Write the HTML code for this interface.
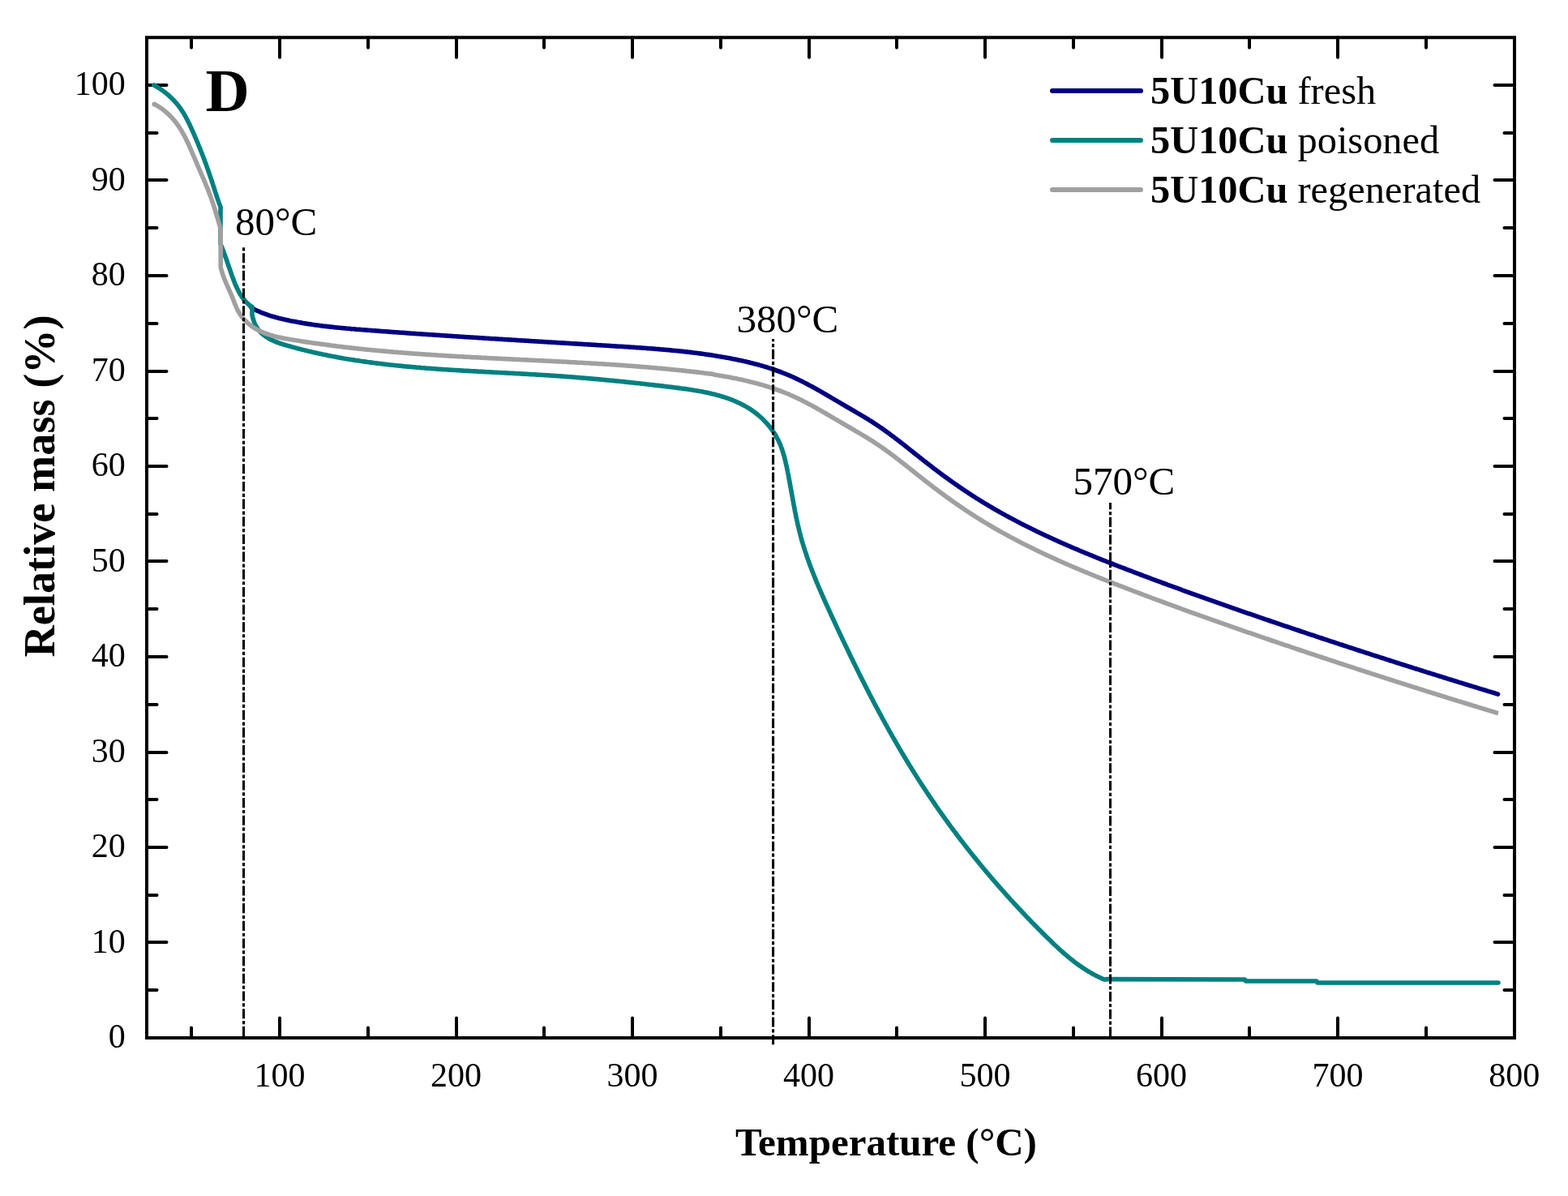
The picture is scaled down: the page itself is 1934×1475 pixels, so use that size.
<!DOCTYPE html><html><head><meta charset="utf-8"><title>TGA</title><style>html,body{margin:0;padding:0;background:#fff;overflow:hidden;width:1934px;height:1475px;}svg{display:block}</style></head><body>
<svg width="1934" height="1475" viewBox="0 0 1934 1475">
<rect width="1934" height="1475" fill="#fff"/>
<g stroke="#000" stroke-width="4" stroke-linecap="round">
<line x1="236.00" y1="1280.0" x2="236.00" y2="1267.5"/>
<line x1="236.00" y1="46.25" x2="236.00" y2="58.75"/>
<line x1="345.00" y1="1280.0" x2="345.00" y2="1255.5"/>
<line x1="345.00" y1="46.25" x2="345.00" y2="70.75"/>
<line x1="454.00" y1="1280.0" x2="454.00" y2="1267.5"/>
<line x1="454.00" y1="46.25" x2="454.00" y2="58.75"/>
<line x1="563.00" y1="1280.0" x2="563.00" y2="1255.5"/>
<line x1="563.00" y1="46.25" x2="563.00" y2="70.75"/>
<line x1="671.00" y1="1280.0" x2="671.00" y2="1267.5"/>
<line x1="671.00" y1="46.25" x2="671.00" y2="58.75"/>
<line x1="780.00" y1="1280.0" x2="780.00" y2="1255.5"/>
<line x1="780.00" y1="46.25" x2="780.00" y2="70.75"/>
<line x1="889.00" y1="1280.0" x2="889.00" y2="1267.5"/>
<line x1="889.00" y1="46.25" x2="889.00" y2="58.75"/>
<line x1="998.00" y1="1280.0" x2="998.00" y2="1255.5"/>
<line x1="998.00" y1="46.25" x2="998.00" y2="70.75"/>
<line x1="1106.00" y1="1280.0" x2="1106.00" y2="1267.5"/>
<line x1="1106.00" y1="46.25" x2="1106.00" y2="58.75"/>
<line x1="1215.00" y1="1280.0" x2="1215.00" y2="1255.5"/>
<line x1="1215.00" y1="46.25" x2="1215.00" y2="70.75"/>
<line x1="1324.00" y1="1280.0" x2="1324.00" y2="1267.5"/>
<line x1="1324.00" y1="46.25" x2="1324.00" y2="58.75"/>
<line x1="1433.00" y1="1280.0" x2="1433.00" y2="1255.5"/>
<line x1="1433.00" y1="46.25" x2="1433.00" y2="70.75"/>
<line x1="1541.00" y1="1280.0" x2="1541.00" y2="1267.5"/>
<line x1="1541.00" y1="46.25" x2="1541.00" y2="58.75"/>
<line x1="1650.00" y1="1280.0" x2="1650.00" y2="1255.5"/>
<line x1="1650.00" y1="46.25" x2="1650.00" y2="70.75"/>
<line x1="1759.00" y1="1280.0" x2="1759.00" y2="1267.5"/>
<line x1="1759.00" y1="46.25" x2="1759.00" y2="58.75"/>
<line x1="181.0" y1="1221.00" x2="193.5" y2="1221.00"/>
<line x1="1868.0" y1="1221.00" x2="1855.5" y2="1221.00"/>
<line x1="181.0" y1="1162.00" x2="205.5" y2="1162.00"/>
<line x1="1868.0" y1="1162.00" x2="1843.5" y2="1162.00"/>
<line x1="181.0" y1="1104.00" x2="193.5" y2="1104.00"/>
<line x1="1868.0" y1="1104.00" x2="1855.5" y2="1104.00"/>
<line x1="181.0" y1="1045.00" x2="205.5" y2="1045.00"/>
<line x1="1868.0" y1="1045.00" x2="1843.5" y2="1045.00"/>
<line x1="181.0" y1="986.00" x2="193.5" y2="986.00"/>
<line x1="1868.0" y1="986.00" x2="1855.5" y2="986.00"/>
<line x1="181.0" y1="928.00" x2="205.5" y2="928.00"/>
<line x1="1868.0" y1="928.00" x2="1843.5" y2="928.00"/>
<line x1="181.0" y1="869.00" x2="193.5" y2="869.00"/>
<line x1="1868.0" y1="869.00" x2="1855.5" y2="869.00"/>
<line x1="181.0" y1="810.00" x2="205.5" y2="810.00"/>
<line x1="1868.0" y1="810.00" x2="1843.5" y2="810.00"/>
<line x1="181.0" y1="751.00" x2="193.5" y2="751.00"/>
<line x1="1868.0" y1="751.00" x2="1855.5" y2="751.00"/>
<line x1="181.0" y1="692.00" x2="205.5" y2="692.00"/>
<line x1="1868.0" y1="692.00" x2="1843.5" y2="692.00"/>
<line x1="181.0" y1="634.00" x2="193.5" y2="634.00"/>
<line x1="1868.0" y1="634.00" x2="1855.5" y2="634.00"/>
<line x1="181.0" y1="575.00" x2="205.5" y2="575.00"/>
<line x1="1868.0" y1="575.00" x2="1843.5" y2="575.00"/>
<line x1="181.0" y1="516.00" x2="193.5" y2="516.00"/>
<line x1="1868.0" y1="516.00" x2="1855.5" y2="516.00"/>
<line x1="181.0" y1="458.00" x2="205.5" y2="458.00"/>
<line x1="1868.0" y1="458.00" x2="1843.5" y2="458.00"/>
<line x1="181.0" y1="399.00" x2="193.5" y2="399.00"/>
<line x1="1868.0" y1="399.00" x2="1855.5" y2="399.00"/>
<line x1="181.0" y1="340.00" x2="205.5" y2="340.00"/>
<line x1="1868.0" y1="340.00" x2="1843.5" y2="340.00"/>
<line x1="181.0" y1="281.00" x2="193.5" y2="281.00"/>
<line x1="1868.0" y1="281.00" x2="1855.5" y2="281.00"/>
<line x1="181.0" y1="222.00" x2="205.5" y2="222.00"/>
<line x1="1868.0" y1="222.00" x2="1843.5" y2="222.00"/>
<line x1="181.0" y1="164.00" x2="193.5" y2="164.00"/>
<line x1="1868.0" y1="164.00" x2="1855.5" y2="164.00"/>
<line x1="181.0" y1="105.00" x2="205.5" y2="105.00"/>
<line x1="1868.0" y1="105.00" x2="1843.5" y2="105.00"/>
</g>
<rect x="181.0" y="46.25" width="1687.0" height="1233.75" fill="none" stroke="#000" stroke-width="4"/>
<g fill="none" stroke-width="5.6" stroke-linejoin="round" stroke-linecap="round">
<path stroke="#000080" d="M309.5,378.6L310.6,379.8L311.9,380.5L313.2,381.2L314.5,381.9L315.9,382.6L317.2,383.2L318.6,383.8L320.0,384.4L321.3,385.0L322.7,385.6L324.1,386.2L325.5,386.7L326.9,387.2L328.3,387.7L329.7,388.2L331.1,388.7L332.5,389.1L334.0,389.6L335.4,390.0L336.8,390.4L338.3,390.8L339.7,391.2L341.1,391.6L342.6,392.0L344.0,392.4L345.5,392.7L347.0,393.1L348.4,393.4L349.9,393.8L351.3,394.1L352.8,394.4L354.3,394.7L355.7,395.0L357.2,395.4L358.6,395.7L360.1,396.0L361.6,396.2L363.0,396.5L364.5,396.8L366.0,397.1L367.5,397.4L368.9,397.6L370.4,397.9L371.9,398.1L373.4,398.4L374.8,398.7L376.3,398.9L377.8,399.1L379.3,399.4L380.8,399.6L382.2,399.8L383.7,400.0L385.2,400.3L386.7,400.5L388.2,400.7L389.7,400.9L391.1,401.1L392.6,401.3L394.1,401.5L395.6,401.7L397.1,401.9L398.6,402.1L400.1,402.2L401.6,402.4L403.1,402.6L404.6,402.8L406.0,402.9L407.5,403.1L409.0,403.3L410.5,403.4L412.0,403.6L413.5,403.7L415.0,403.9L416.5,404.0L418.0,404.2L419.5,404.3L421.0,404.5L422.5,404.6L424.0,404.8L425.5,404.9L427.0,405.0L428.5,405.2L430.0,405.3L431.5,405.4L433.0,405.6L434.5,405.7L436.0,405.8L437.5,405.9L439.0,406.1L440.5,406.2L442.0,406.3L443.5,406.4L445.0,406.5L446.5,406.7L448.0,406.8L449.5,406.9L451.0,407.0L452.5,407.1L454.0,407.2L455.5,407.3L457.0,407.5L458.5,407.6L460.0,407.7L461.5,407.8L463.0,407.9L464.5,408.0L466.0,408.1L467.5,408.2L469.0,408.4L470.5,408.5L472.0,408.6L473.5,408.7L475.0,408.8L476.5,408.9L478.0,409.0L479.5,409.1L481.0,409.2L482.5,409.4L484.0,409.5L485.5,409.6L487.0,409.7L488.5,409.8L490.0,409.9L491.5,410.0L493.0,410.1L494.5,410.2L496.0,410.3L497.5,410.4L499.0,410.5L500.5,410.6L502.0,410.7L503.5,410.9L505.0,411.0L506.5,411.1L508.0,411.2L509.5,411.3L511.0,411.4L512.5,411.5L514.0,411.6L515.5,411.7L517.0,411.8L518.5,411.9L520.0,412.0L521.5,412.1L523.0,412.2L524.5,412.3L526.0,412.4L527.5,412.5L529.0,412.6L530.5,412.7L532.0,412.8L533.5,412.9L535.0,413.0L536.5,413.1L538.0,413.2L539.5,413.3L541.0,413.4L542.5,413.5L544.0,413.6L545.5,413.7L547.0,413.8L548.5,413.9L550.0,414.0L551.4,414.1L552.9,414.2L554.4,414.3L555.9,414.4L557.4,414.5L558.9,414.6L560.4,414.7L561.9,414.8L563.4,414.9L564.9,415.0L566.4,415.1L567.9,415.2L569.4,415.3L570.9,415.4L572.4,415.5L573.9,415.6L575.4,415.7L576.9,415.8L578.4,415.9L579.9,416.0L581.4,416.0L582.9,416.1L584.4,416.2L585.9,416.3L587.4,416.4L588.9,416.5L590.4,416.6L591.9,416.7L593.4,416.8L594.9,416.9L596.4,417.0L597.9,417.1L599.4,417.2L600.9,417.3L602.3,417.4L603.8,417.5L605.3,417.6L606.8,417.7L608.3,417.7L609.8,417.8L611.3,417.9L612.8,418.0L614.3,418.1L615.8,418.2L617.3,418.3L618.8,418.4L620.3,418.5L621.8,418.6L623.3,418.7L624.8,418.8L626.3,418.9L627.8,418.9L629.3,419.0L630.8,419.1L632.3,419.2L633.8,419.3L635.3,419.4L636.8,419.5L638.3,419.6L639.8,419.7L641.3,419.8L642.8,419.9L644.3,420.0L645.8,420.0L647.3,420.1L648.8,420.2L650.3,420.3L651.7,420.4L653.2,420.5L654.7,420.6L656.2,420.7L657.7,420.8L659.2,420.9L660.7,421.0L662.2,421.0L663.7,421.1L665.2,421.2L666.7,421.3L668.2,421.4L669.7,421.5L671.2,421.6L672.7,421.7L674.2,421.8L675.7,421.9L677.2,422.0L678.7,422.0L680.2,422.1L681.7,422.2L683.2,422.3L684.7,422.4L686.2,422.5L687.7,422.6L689.2,422.7L690.7,422.8L692.2,422.9L693.7,422.9L695.2,423.0L696.7,423.1L698.2,423.2L699.7,423.3L701.2,423.4L702.7,423.5L704.2,423.6L705.7,423.7L707.2,423.8L708.7,423.9L710.2,423.9L711.7,424.0L713.2,424.1L714.7,424.2L716.1,424.3L717.6,424.4L719.1,424.5L720.6,424.6L722.1,424.7L723.6,424.8L725.1,424.9L726.6,424.9L728.1,425.0L729.6,425.1L731.1,425.2L732.6,425.3L734.1,425.4L735.6,425.5L737.1,425.6L738.6,425.7L740.1,425.8L741.6,425.9L743.1,426.0L744.6,426.0L746.1,426.1L747.6,426.2L749.1,426.3L750.6,426.4L752.1,426.5L753.6,426.6L755.1,426.7L756.6,426.8L758.1,426.9L759.6,427.0L761.1,427.1L762.6,427.2L764.1,427.2L765.6,427.3L767.1,427.4L768.6,427.5L770.1,427.6L771.6,427.7L773.1,427.8L774.6,427.9L776.1,428.0L777.6,428.1L779.1,428.2L780.6,428.3L782.1,428.4L783.6,428.5L785.1,428.6L786.6,428.7L788.1,428.8L789.6,428.9L791.1,429.0L792.6,429.1L794.1,429.2L795.6,429.3L797.1,429.5L798.6,429.6L800.1,429.7L801.6,429.8L803.1,429.9L804.6,430.0L806.1,430.1L807.6,430.2L809.1,430.4L810.6,430.5L812.1,430.6L813.6,430.7L815.1,430.9L816.6,431.0L818.1,431.1L819.6,431.2L821.1,431.4L822.6,431.5L824.1,431.6L825.6,431.8L827.1,431.9L828.6,432.1L830.1,432.2L831.6,432.4L833.1,432.5L834.6,432.6L836.1,432.8L837.6,433.0L839.1,433.1L840.5,433.3L842.0,433.4L843.5,433.6L845.0,433.8L846.5,433.9L848.0,434.1L849.5,434.3L851.0,434.4L852.5,434.6L854.0,434.8L855.5,435.0L857.0,435.2L858.4,435.3L859.9,435.5L861.4,435.7L862.9,435.9L864.4,436.1L865.9,436.3L867.4,436.5L868.9,436.7L870.3,436.9L871.8,437.2L873.3,437.4L874.8,437.6L876.3,437.8L877.8,438.0L879.3,438.3L880.7,438.5L882.2,438.7L883.7,439.0L885.2,439.2L886.7,439.5L888.1,439.7L889.6,440.0L891.1,440.2L892.6,440.5L894.1,440.7L895.5,441.0L897.0,441.3L898.5,441.5L900.0,441.8L901.4,442.1L902.9,442.4L904.4,442.7L905.9,443.0L907.3,443.3L908.8,443.6L910.3,443.9L911.7,444.2L913.2,444.5L914.7,444.8L916.1,445.1L917.6,445.5L919.1,445.8L920.5,446.1L922.0,446.5L923.5,446.8L924.9,447.2L926.4,447.6L927.8,447.9L929.3,448.3L930.7,448.7L932.2,449.0L933.6,449.4L935.1,449.8L936.5,450.2L938.0,450.6L939.4,451.0L940.8,451.4L942.3,451.9L943.7,452.3L945.2,452.7L946.6,453.2L948.0,453.6L949.4,454.1L950.9,454.5L952.3,455.0L953.7,455.5L955.1,456.0L956.5,456.5L957.9,457.0L959.3,457.5L960.8,458.0L962.2,458.5L963.6,459.0L965.0,459.6L966.3,460.1L967.7,460.6L969.1,461.2L970.5,461.8L971.9,462.3L973.3,462.9L974.6,463.5L976.0,464.1L977.4,464.7L978.7,465.3L980.1,466.0L981.5,466.6L982.8,467.2L984.2,467.9L985.5,468.5L986.9,469.2L988.2,469.8L989.5,470.5L990.9,471.2L992.2,471.9L993.6,472.6L994.9,473.3L996.2,474.0L997.5,474.7L998.9,475.4L1000.2,476.1L1001.5,476.8L1002.8,477.5L1004.1,478.3L1005.5,479.0L1006.8,479.7L1008.1,480.5L1009.4,481.2L1010.7,481.9L1012.0,482.7L1013.3,483.4L1014.6,484.2L1015.9,485.0L1017.3,485.7L1018.6,486.5L1019.9,487.2L1021.2,488.0L1022.5,488.8L1023.8,489.5L1025.1,490.3L1026.4,491.1L1027.7,491.8L1029.0,492.6L1030.3,493.4L1031.6,494.1L1032.9,494.9L1034.2,495.7L1035.5,496.4L1036.8,497.2L1038.1,498.0L1039.4,498.7L1040.7,499.5L1042.0,500.2L1043.3,501.0L1044.6,501.8L1045.9,502.5L1047.2,503.3L1048.5,504.0L1049.8,504.8L1051.1,505.5L1052.4,506.3L1053.7,507.0L1055.0,507.8L1056.3,508.6L1057.6,509.3L1058.9,510.1L1060.2,510.8L1061.5,511.6L1062.8,512.4L1064.1,513.1L1065.3,513.9L1066.6,514.7L1067.9,515.5L1069.2,516.2L1070.5,517.0L1071.7,517.8L1073.0,518.6L1074.3,519.4L1075.5,520.2L1076.8,521.0L1078.1,521.8L1079.3,522.6L1080.6,523.5L1081.8,524.3L1083.1,525.1L1084.3,526.0L1085.5,526.8L1086.8,527.6L1088.0,528.5L1089.2,529.4L1090.4,530.2L1091.6,531.1L1092.9,532.0L1094.1,532.8L1095.3,533.7L1096.5,534.6L1097.7,535.5L1098.9,536.4L1100.1,537.3L1101.3,538.2L1102.5,539.1L1103.7,540.0L1104.9,540.9L1106.1,541.8L1107.2,542.7L1108.4,543.6L1109.6,544.5L1110.8,545.4L1112.0,546.4L1113.2,547.3L1114.3,548.2L1115.5,549.1L1116.7,550.1L1117.9,551.0L1119.0,551.9L1120.2,552.9L1121.4,553.8L1122.6,554.7L1123.7,555.7L1124.9,556.6L1126.1,557.5L1127.3,558.5L1128.4,559.4L1129.6,560.3L1130.8,561.3L1132.0,562.2L1133.1,563.1L1134.3,564.1L1135.5,565.0L1136.7,565.9L1137.9,566.9L1139.0,567.8L1140.2,568.7L1141.4,569.6L1142.6,570.6L1143.8,571.5L1145.0,572.4L1146.2,573.3L1147.3,574.2L1148.5,575.2L1149.7,576.1L1150.9,577.0L1152.1,577.9L1153.3,578.8L1154.5,579.7L1155.7,580.6L1156.9,581.5L1158.1,582.4L1159.3,583.3L1160.5,584.2L1161.7,585.1L1163.0,586.0L1164.2,586.9L1165.4,587.8L1166.6,588.7L1167.8,589.6L1169.0,590.4L1170.3,591.3L1171.5,592.2L1172.7,593.1L1173.9,593.9L1175.1,594.8L1176.4,595.7L1177.6,596.5L1178.8,597.4L1180.1,598.3L1181.3,599.1L1182.5,600.0L1183.8,600.8L1185.0,601.7L1186.3,602.5L1187.5,603.4L1188.8,604.2L1190.0,605.0L1191.2,605.9L1192.5,606.7L1193.7,607.5L1195.0,608.4L1196.3,609.2L1197.5,610.0L1198.8,610.8L1200.0,611.6L1201.3,612.4L1202.6,613.3L1203.8,614.1L1205.1,614.9L1206.4,615.7L1207.6,616.5L1208.9,617.2L1210.2,618.0L1211.5,618.8L1212.7,619.6L1214.0,620.4L1215.3,621.2L1216.6,621.9L1217.9,622.7L1219.2,623.5L1220.5,624.2L1221.7,625.0L1223.0,625.7L1224.3,626.5L1225.6,627.3L1226.9,628.0L1228.2,628.8L1229.5,629.5L1230.8,630.2L1232.1,631.0L1233.4,631.7L1234.7,632.4L1236.0,633.2L1237.4,633.9L1238.7,634.6L1240.0,635.4L1241.3,636.1L1242.6,636.8L1243.9,637.5L1245.2,638.2L1246.6,638.9L1247.9,639.6L1249.2,640.3L1250.5,641.0L1251.9,641.7L1253.2,642.4L1254.5,643.1L1255.8,643.8L1257.2,644.5L1258.5,645.2L1259.8,645.9L1261.2,646.6L1262.5,647.2L1263.8,647.9L1265.2,648.6L1266.5,649.3L1267.9,649.9L1269.2,650.6L1270.6,651.3L1271.9,651.9L1273.2,652.6L1274.6,653.3L1275.9,653.9L1277.3,654.6L1278.6,655.2L1280.0,655.9L1281.3,656.5L1282.7,657.2L1284.0,657.8L1285.4,658.5L1286.8,659.1L1288.1,659.7L1289.5,660.4L1290.8,661.0L1292.2,661.6L1293.6,662.3L1294.9,662.9L1296.3,663.5L1297.7,664.1L1299.0,664.8L1300.4,665.4L1301.8,666.0L1303.1,666.6L1304.5,667.2L1305.9,667.9L1307.2,668.5L1308.6,669.1L1310.0,669.7L1311.4,670.3L1312.7,670.9L1314.1,671.5L1315.5,672.1L1316.9,672.7L1318.2,673.3L1319.6,673.9L1321.0,674.5L1322.4,675.1L1323.8,675.7L1325.2,676.3L1326.5,676.8L1327.9,677.4L1329.3,678.0L1330.7,678.6L1332.1,679.2L1333.5,679.8L1334.9,680.4L1336.2,680.9L1337.6,681.5L1339.0,682.1L1340.4,682.7L1341.8,683.2L1343.2,683.8L1344.6,684.4L1346.0,684.9L1347.4,685.5L1348.8,686.1L1350.2,686.6L1351.6,687.2L1352.9,687.8L1354.3,688.3L1355.7,688.9L1357.1,689.5L1358.5,690.0L1359.9,690.6L1361.3,691.1L1362.7,691.7L1364.1,692.2L1365.5,692.8L1366.9,693.3L1368.3,693.9L1369.7,694.4L1371.1,695.0L1372.5,695.5L1373.9,696.1L1375.3,696.6L1376.7,697.2L1378.1,697.7L1379.5,698.3L1380.9,698.8L1382.3,699.4L1383.7,699.9L1385.2,700.4L1386.6,701.0L1388.0,701.5L1389.4,702.1L1390.8,702.6L1392.2,703.1L1393.6,703.7L1395.0,704.2L1396.4,704.7L1397.8,705.3L1399.2,705.8L1400.6,706.3L1402.0,706.9L1403.4,707.4L1404.8,707.9L1406.2,708.5L1407.6,709.0L1409.0,709.5L1410.5,710.1L1411.9,710.6L1413.3,711.1L1414.7,711.6L1416.1,712.2L1417.5,712.7L1418.9,713.2L1420.3,713.8L1421.7,714.3L1423.1,714.8L1424.5,715.3L1425.9,715.9L1427.3,716.4L1428.7,716.9L1430.2,717.4L1431.6,717.9L1433.0,718.5L1434.4,719.0L1435.8,719.5L1437.2,720.0L1438.6,720.5L1440.0,721.1L1441.4,721.6L1442.8,722.1L1444.2,722.6L1445.7,723.1L1447.1,723.6L1448.5,724.2L1449.9,724.7L1451.3,725.2L1452.7,725.7L1454.1,726.2L1455.5,726.7L1456.9,727.2L1458.3,727.8L1459.8,728.3L1461.2,728.8L1462.6,729.3L1464.0,729.8L1465.4,730.3L1466.8,730.8L1468.2,731.3L1469.6,731.8L1471.0,732.3L1472.5,732.9L1473.9,733.4L1475.3,733.9L1476.7,734.4L1478.1,734.9L1479.5,735.4L1480.9,735.9L1482.3,736.4L1483.8,736.9L1485.2,737.4L1486.6,737.9L1488.0,738.4L1489.4,738.9L1490.8,739.4L1492.2,739.9L1493.6,740.4L1495.1,740.9L1496.5,741.4L1497.9,741.9L1499.3,742.4L1500.7,742.9L1502.1,743.4L1503.5,743.9L1505.0,744.4L1506.4,744.9L1507.8,745.4L1509.2,745.9L1510.6,746.4L1512.0,746.9L1513.4,747.4L1514.9,747.9L1516.3,748.4L1517.7,748.9L1519.1,749.4L1520.5,749.9L1521.9,750.4L1523.4,750.9L1524.8,751.4L1526.2,751.8L1527.6,752.3L1529.0,752.8L1530.4,753.3L1531.9,753.8L1533.3,754.3L1534.7,754.8L1536.1,755.3L1537.5,755.8L1538.9,756.3L1540.4,756.8L1541.8,757.2L1543.2,757.7L1544.6,758.2L1546.0,758.7L1547.5,759.2L1548.9,759.7L1550.3,760.2L1551.7,760.7L1553.1,761.1L1554.5,761.6L1556.0,762.1L1557.4,762.6L1558.8,763.1L1560.2,763.6L1561.6,764.1L1563.1,764.5L1564.5,765.0L1565.9,765.5L1567.3,766.0L1568.7,766.5L1570.2,767.0L1571.6,767.4L1573.0,767.9L1574.4,768.4L1575.8,768.9L1577.3,769.4L1578.7,769.9L1580.1,770.3L1581.5,770.8L1582.9,771.3L1584.4,771.8L1585.8,772.3L1587.2,772.7L1588.6,773.2L1590.1,773.7L1591.5,774.2L1592.9,774.7L1594.3,775.1L1595.7,775.6L1597.2,776.1L1598.6,776.6L1600.0,777.0L1601.4,777.5L1602.9,778.0L1604.3,778.5L1605.7,779.0L1607.1,779.4L1608.6,779.9L1610.0,780.4L1611.4,780.9L1612.8,781.3L1614.2,781.8L1615.7,782.3L1617.1,782.8L1618.5,783.2L1619.9,783.7L1621.4,784.2L1622.8,784.7L1624.2,785.1L1625.6,785.6L1627.1,786.1L1628.5,786.5L1629.9,787.0L1631.3,787.5L1632.8,788.0L1634.2,788.4L1635.6,788.9L1637.1,789.4L1638.5,789.9L1639.9,790.3L1641.3,790.8L1642.8,791.3L1644.2,791.7L1645.6,792.2L1647.0,792.7L1648.5,793.1L1649.9,793.6L1651.3,794.1L1652.7,794.6L1654.2,795.0L1655.6,795.5L1657.0,796.0L1658.5,796.4L1659.9,796.9L1661.3,797.4L1662.7,797.8L1664.2,798.3L1665.6,798.8L1667.0,799.2L1668.5,799.7L1669.9,800.2L1671.3,800.6L1672.7,801.1L1674.2,801.6L1675.6,802.0L1677.0,802.5L1678.5,803.0L1679.9,803.4L1681.3,803.9L1682.7,804.4L1684.2,804.8L1685.6,805.3L1687.0,805.7L1688.5,806.2L1689.9,806.7L1691.3,807.1L1692.7,807.6L1694.2,808.1L1695.6,808.5L1697.0,809.0L1698.5,809.4L1699.9,809.9L1701.3,810.4L1702.8,810.8L1704.2,811.3L1705.6,811.7L1707.0,812.2L1708.5,812.7L1709.9,813.1L1711.3,813.6L1712.8,814.0L1714.2,814.5L1715.6,815.0L1717.1,815.4L1718.5,815.9L1719.9,816.3L1721.4,816.8L1722.8,817.3L1724.2,817.7L1725.7,818.2L1727.1,818.6L1728.5,819.1L1729.9,819.5L1731.4,820.0L1732.8,820.4L1734.2,820.9L1735.7,821.4L1737.1,821.8L1738.5,822.3L1740.0,822.7L1741.4,823.2L1742.8,823.6L1744.3,824.1L1745.7,824.5L1747.1,825.0L1748.6,825.4L1750.0,825.9L1751.4,826.3L1752.9,826.8L1754.3,827.2L1755.7,827.7L1757.2,828.1L1758.6,828.6L1760.0,829.1L1761.5,829.5L1762.9,830.0L1764.3,830.4L1765.8,830.9L1767.2,831.3L1768.6,831.7L1770.1,832.2L1771.5,832.6L1772.9,833.1L1774.4,833.5L1775.8,834.0L1777.2,834.4L1778.7,834.9L1780.1,835.3L1781.5,835.8L1783.0,836.2L1784.4,836.7L1785.8,837.1L1787.3,837.6L1788.7,838.0L1790.1,838.5L1791.6,838.9L1793.0,839.3L1794.4,839.8L1795.9,840.2L1797.3,840.7L1798.7,841.1L1800.2,841.6L1801.6,842.0L1803.0,842.4L1804.5,842.9L1805.9,843.3L1807.3,843.8L1808.8,844.2L1810.2,844.7L1811.6,845.1L1813.1,845.5L1814.5,846.0L1815.9,846.4L1817.4,846.9L1818.8,847.3L1820.2,847.7L1821.7,848.2L1823.1,848.6L1824.5,849.1L1826.0,849.5L1827.4,849.9L1828.8,850.4L1830.3,850.8L1831.7,851.2L1833.2,851.7L1834.6,852.1L1836.0,852.6L1837.5,853.0L1838.9,853.4L1840.3,853.9L1841.8,854.3L1843.2,854.7L1844.6,855.2L1846.1,855.6L1847.5,856.1"/>
<path stroke="#008080" d="M189.9,105.0L191.2,105.7L192.5,106.5L193.8,107.2L195.1,108.1L196.4,108.9L197.7,109.7L199.0,110.6L200.2,111.5L201.5,112.4L202.7,113.3L203.9,114.2L205.1,115.2L206.3,116.1L207.4,117.1L208.6,118.1L209.7,119.2L210.8,120.2L211.9,121.3L213.0,122.3L214.1,123.4L215.1,124.5L216.1,125.7L217.1,126.8L218.1,128.0L219.1,129.1L220.0,130.3L221.0,131.5L221.9,132.7L222.7,134.0L223.6,135.2L224.4,136.5L225.3,137.8L226.1,139.0L226.8,140.3L227.6,141.6L228.4,143.0L229.1,144.3L229.8,145.6L230.6,147.0L231.3,148.3L231.9,149.7L232.6,151.1L233.3,152.4L234.0,153.8L234.6,155.2L235.2,156.6L235.9,158.0L236.5,159.4L237.1,160.8L237.8,162.2L238.4,163.6L239.0,165.0L239.6,166.4L240.2,167.8L240.8,169.2L241.4,170.6L242.0,172.0L242.6,173.4L243.2,174.8L243.8,176.2L244.4,177.6L244.9,179.0L245.5,180.5L246.1,181.9L246.7,183.3L247.2,184.7L247.8,186.1L248.3,187.5L248.9,188.9L249.5,190.4L250.0,191.8L250.6,193.2L251.1,194.6L251.6,196.0L252.2,197.5L252.7,198.9L253.2,200.3L253.8,201.7L254.3,203.2L254.8,204.6L255.3,206.0L255.8,207.5L256.3,208.9L256.8,210.3L257.3,211.8L257.8,213.2L258.3,214.6L258.8,216.1L259.3,217.5L259.8,219.0L260.3,220.4L260.8,221.9L261.2,223.3L261.7,224.7L262.2,226.2L262.6,227.6L263.1,229.1L263.6,230.5L264.0,232.0L264.5,233.4L265.0,234.9L265.4,236.3L265.9,237.8L266.4,239.2L266.8,240.7L267.3,242.1L267.8,243.6L268.3,245.0L268.8,246.5L269.3,247.9L269.8,249.3L270.3,250.8L270.9,252.2L271.4,253.6L272.0,255.0L272.0,255.0L272.0,300.0L272.0,300.0L272.3,301.6L272.9,303.0L273.4,304.4L274.0,305.8L274.6,307.2L275.1,308.7L275.7,310.1L276.2,311.5L276.7,313.0L277.2,314.4L277.8,315.8L278.3,317.3L278.8,318.7L279.3,320.2L279.8,321.7L280.3,323.1L280.8,324.6L281.3,326.0L281.8,327.5L282.3,329.0L282.8,330.4L283.3,331.9L283.9,333.4L284.4,334.8L284.9,336.3L285.4,337.8L285.9,339.3L286.4,340.7L287.0,342.2L287.5,343.7L288.0,345.1L288.6,346.6L289.2,348.0L289.7,349.5L290.3,350.9L290.9,352.3L291.6,353.7L292.2,355.1L292.9,356.5L293.6,357.9L294.3,359.3L295.0,360.6L295.7,361.9L296.5,363.2L297.3,364.5L298.2,365.8L299.0,367.0L299.9,368.2L300.9,369.4L301.8,370.6L302.9,371.7L303.9,372.9L305.0,373.9L306.1,375.0L307.3,376.0L308.5,377.0L309.7,377.9L311.2,378.6L311.2,378.6L311.0,386.0L311.0,386.0L310.8,387.0L311.1,388.8L311.5,390.6L311.9,392.3L312.4,393.9L312.9,395.5L313.4,397.0L314.0,398.5L314.6,399.9L315.3,401.3L316.1,402.6L316.8,403.9L317.6,405.1L318.5,406.2L319.3,407.4L320.2,408.4L321.2,409.5L322.2,410.5L323.2,411.4L324.2,412.4L325.3,413.3L326.4,414.1L327.5,414.9L328.7,415.7L329.9,416.4L331.1,417.2L332.3,417.9L333.5,418.5L334.8,419.2L336.1,419.8L337.4,420.4L338.7,420.9L340.0,421.5L341.4,422.0L342.8,422.5L344.1,423.0L345.5,423.5L346.9,424.0L348.3,424.4L349.7,424.8L351.1,425.3L352.6,425.7L354.0,426.1L355.4,426.5L356.9,426.9L358.3,427.3L359.7,427.7L361.2,428.1L362.6,428.5L364.0,428.9L365.5,429.3L366.9,429.7L368.4,430.1L369.8,430.4L371.2,430.8L372.7,431.2L374.1,431.5L375.6,431.9L377.0,432.3L378.5,432.6L379.9,433.0L381.4,433.3L382.8,433.6L384.3,434.0L385.7,434.3L387.2,434.7L388.6,435.0L390.1,435.3L391.6,435.6L393.0,436.0L394.5,436.3L395.9,436.6L397.4,436.9L398.9,437.2L400.3,437.5L401.8,437.8L403.2,438.1L404.7,438.4L406.2,438.7L407.6,439.0L409.1,439.3L410.6,439.5L412.1,439.8L413.5,440.1L415.0,440.4L416.5,440.6L417.9,440.9L419.4,441.2L420.9,441.4L422.4,441.7L423.9,442.0L425.3,442.2L426.8,442.5L428.3,442.7L429.8,443.0L431.2,443.2L432.7,443.4L434.2,443.7L435.7,443.9L437.2,444.1L438.7,444.4L440.1,444.6L441.6,444.8L443.1,445.0L444.6,445.3L446.1,445.5L447.6,445.7L449.1,445.9L450.6,446.1L452.1,446.3L453.5,446.5L455.0,446.7L456.5,446.9L458.0,447.1L459.5,447.3L461.0,447.5L462.5,447.7L464.0,447.9L465.5,448.1L467.0,448.3L468.5,448.5L470.0,448.6L471.5,448.8L473.0,449.0L474.5,449.2L476.0,449.3L477.5,449.5L479.0,449.7L480.5,449.9L482.0,450.0L483.5,450.2L485.0,450.3L486.5,450.5L488.0,450.7L489.5,450.8L491.0,451.0L492.5,451.1L494.0,451.3L495.5,451.4L497.0,451.6L498.5,451.7L500.0,451.9L501.5,452.0L503.0,452.1L504.5,452.3L506.1,452.4L507.6,452.5L509.1,452.7L510.6,452.8L512.1,452.9L513.6,453.1L515.1,453.2L516.6,453.3L518.1,453.4L519.6,453.6L521.1,453.7L522.6,453.8L524.2,453.9L525.7,454.1L527.2,454.2L528.7,454.3L530.2,454.4L531.7,454.5L533.2,454.6L534.7,454.7L536.2,454.8L537.8,455.0L539.3,455.1L540.8,455.2L542.3,455.3L543.8,455.4L545.3,455.5L546.8,455.6L548.3,455.7L549.9,455.8L551.4,455.9L552.9,456.0L554.4,456.1L555.9,456.2L557.4,456.3L558.9,456.4L560.4,456.5L562.0,456.5L563.5,456.6L565.0,456.7L566.5,456.8L568.0,456.9L569.5,457.0L571.0,457.1L572.5,457.2L574.1,457.3L575.6,457.4L577.1,457.4L578.6,457.5L580.1,457.6L581.6,457.7L583.1,457.8L584.6,457.9L586.2,457.9L587.7,458.0L589.2,458.1L590.7,458.2L592.2,458.3L593.7,458.4L595.2,458.4L596.7,458.5L598.2,458.6L599.7,458.7L601.3,458.8L602.8,458.8L604.3,458.9L605.8,459.0L607.3,459.1L608.8,459.2L610.3,459.2L611.8,459.3L613.3,459.4L614.8,459.5L616.3,459.5L617.8,459.6L619.3,459.7L620.8,459.8L622.4,459.9L623.9,459.9L625.4,460.0L626.9,460.1L628.4,460.2L629.9,460.3L631.4,460.3L632.9,460.4L634.4,460.5L635.9,460.6L637.4,460.7L638.9,460.7L640.4,460.8L641.9,460.9L643.4,461.0L644.9,461.1L646.4,461.1L647.9,461.2L649.4,461.3L650.9,461.4L652.4,461.5L653.9,461.6L655.4,461.7L656.9,461.7L658.3,461.8L659.8,461.9L661.3,462.0L662.8,462.1L664.3,462.2L665.8,462.3L667.3,462.4L668.8,462.5L670.3,462.5L671.8,462.6L673.3,462.7L674.7,462.8L676.2,462.9L677.7,463.0L679.2,463.1L680.7,463.2L682.2,463.3L683.6,463.4L685.1,463.5L686.6,463.6L688.1,463.7L689.6,463.8L691.1,463.9L692.5,464.0L694.0,464.1L695.5,464.3L697.0,464.4L698.4,464.5L699.9,464.6L701.4,464.7L702.9,464.8L704.4,464.9L705.8,465.0L707.3,465.1L708.8,465.3L710.3,465.4L711.7,465.5L713.2,465.6L714.7,465.7L716.2,465.9L717.6,466.0L719.1,466.1L720.6,466.2L722.0,466.3L723.5,466.5L725.0,466.6L726.5,466.7L727.9,466.8L729.4,467.0L730.9,467.1L732.4,467.2L733.8,467.4L735.3,467.5L736.8,467.6L738.3,467.8L739.7,467.9L741.2,468.0L742.7,468.2L744.2,468.3L745.6,468.5L747.1,468.6L748.6,468.7L750.1,468.9L751.6,469.0L753.0,469.2L754.5,469.3L756.0,469.4L757.5,469.6L759.0,469.7L760.4,469.9L761.9,470.0L763.4,470.2L764.9,470.3L766.4,470.5L767.9,470.6L769.3,470.8L770.8,470.9L772.3,471.1L773.8,471.2L775.3,471.4L776.8,471.6L778.3,471.7L779.8,471.9L781.2,472.0L782.7,472.2L784.2,472.4L785.7,472.5L787.2,472.7L788.7,472.8L790.2,473.0L791.7,473.2L793.2,473.3L794.7,473.5L796.2,473.7L797.7,473.9L799.2,474.0L800.7,474.2L802.2,474.4L803.8,474.5L805.3,474.7L806.8,474.9L808.3,475.1L809.8,475.2L811.3,475.4L812.8,475.6L814.4,475.8L815.9,475.9L817.4,476.1L818.9,476.3L820.4,476.5L822.0,476.7L823.5,476.9L825.0,477.0L826.6,477.2L828.1,477.4L829.6,477.6L831.2,477.8L832.7,478.0L834.2,478.2L835.8,478.4L837.3,478.6L838.9,478.8L840.4,479.0L841.9,479.2L843.5,479.4L845.0,479.6L846.5,479.8L848.1,480.0L849.6,480.3L851.2,480.5L852.7,480.7L854.2,481.0L855.7,481.2L857.3,481.5L858.8,481.7L860.3,482.0L861.9,482.3L863.4,482.5L864.9,482.8L866.4,483.1L867.9,483.4L869.4,483.7L870.9,484.0L872.4,484.3L873.9,484.6L875.4,485.0L876.9,485.3L878.4,485.7L879.9,486.0L881.3,486.4L882.8,486.8L884.3,487.2L885.7,487.6L887.2,488.0L888.6,488.4L890.1,488.8L891.5,489.3L893.0,489.7L894.4,490.2L895.8,490.6L897.2,491.1L898.6,491.6L900.0,492.1L901.4,492.7L902.8,493.2L904.2,493.7L905.5,494.3L906.9,494.9L908.3,495.5L909.6,496.1L910.9,496.7L912.3,497.3L913.6,498.0L914.9,498.6L916.2,499.3L917.5,500.0L918.8,500.7L920.1,501.4L921.3,502.1L922.6,502.9L923.8,503.7L925.1,504.4L926.3,505.2L927.5,506.1L928.7,506.9L929.9,507.8L931.1,508.6L932.2,509.5L933.4,510.4L934.5,511.4L935.7,512.3L936.8,513.3L937.9,514.2L939.0,515.2L940.1,516.2L941.1,517.3L942.2,518.3L943.2,519.4L944.2,520.4L945.2,521.5L946.2,522.6L947.2,523.7L948.1,524.9L949.1,526.0L950.0,527.2L950.9,528.4L951.8,529.5L952.6,530.7L953.5,532.0L954.3,533.2L955.1,534.4L955.9,535.7L956.7,537.0L957.4,538.2L958.1,539.5L958.8,540.8L959.5,542.1L960.2,543.5L960.8,544.8L961.4,546.2L962.0,547.5L962.6,548.9L963.1,550.3L963.6,551.6L964.2,553.0L964.6,554.5L965.1,555.9L965.6,557.3L966.0,558.7L966.4,560.2L966.9,561.6L967.3,563.0L967.6,564.5L968.0,566.0L968.4,567.4L968.7,568.9L969.1,570.4L969.4,571.8L969.7,573.3L970.1,574.8L970.4,576.3L970.7,577.8L971.0,579.2L971.3,580.7L971.6,582.2L971.9,583.7L972.2,585.2L972.5,586.7L972.7,588.2L973.0,589.6L973.3,591.1L973.6,592.6L973.9,594.1L974.1,595.6L974.4,597.1L974.7,598.6L974.9,600.1L975.2,601.6L975.5,603.0L975.8,604.5L976.0,606.0L976.3,607.5L976.6,609.0L976.8,610.5L977.1,612.0L977.4,613.4L977.6,614.9L977.9,616.4L978.2,617.9L978.5,619.4L978.7,620.9L979.0,622.3L979.3,623.8L979.6,625.3L979.9,626.8L980.1,628.3L980.4,629.7L980.7,631.2L981.0,632.7L981.3,634.2L981.6,635.6L981.9,637.1L982.2,638.6L982.5,640.0L982.8,641.5L983.2,643.0L983.5,644.4L983.8,645.9L984.1,647.4L984.5,648.8L984.8,650.3L985.2,651.7L985.5,653.2L985.9,654.7L986.2,656.1L986.6,657.6L987.0,659.0L987.4,660.5L987.7,661.9L988.1,663.3L988.5,664.8L988.9,666.2L989.3,667.7L989.8,669.1L990.2,670.5L990.6,672.0L991.1,673.4L991.5,674.8L991.9,676.2L992.4,677.7L992.8,679.1L993.3,680.5L993.8,681.9L994.3,683.3L994.7,684.8L995.2,686.2L995.7,687.6L996.2,689.0L996.7,690.4L997.2,691.8L997.7,693.2L998.2,694.6L998.7,696.0L999.2,697.5L999.8,698.9L1000.3,700.3L1000.8,701.7L1001.4,703.1L1001.9,704.5L1002.4,705.8L1003.0,707.2L1003.5,708.6L1004.1,710.0L1004.7,711.4L1005.2,712.8L1005.8,714.2L1006.4,715.6L1006.9,717.0L1007.5,718.4L1008.1,719.8L1008.7,721.1L1009.2,722.5L1009.8,723.9L1010.4,725.3L1011.0,726.7L1011.6,728.0L1012.2,729.4L1012.8,730.8L1013.4,732.2L1014.0,733.6L1014.6,734.9L1015.2,736.3L1015.8,737.7L1016.4,739.1L1017.0,740.4L1017.7,741.8L1018.3,743.2L1018.9,744.6L1019.5,745.9L1020.1,747.3L1020.8,748.7L1021.4,750.0L1022.0,751.4L1022.6,752.8L1023.3,754.2L1023.9,755.5L1024.5,756.9L1025.1,758.3L1025.8,759.6L1026.4,761.0L1027.0,762.4L1027.7,763.7L1028.3,765.1L1028.9,766.5L1029.6,767.8L1030.2,769.2L1030.8,770.6L1031.5,771.9L1032.1,773.3L1032.7,774.7L1033.4,776.0L1034.0,777.4L1034.7,778.8L1035.3,780.1L1035.9,781.5L1036.6,782.8L1037.2,784.2L1037.9,785.6L1038.5,786.9L1039.1,788.3L1039.8,789.7L1040.4,791.0L1041.1,792.4L1041.7,793.7L1042.4,795.1L1043.0,796.5L1043.7,797.8L1044.3,799.2L1045.0,800.5L1045.6,801.9L1046.3,803.2L1046.9,804.6L1047.6,806.0L1048.2,807.3L1048.9,808.7L1049.5,810.0L1050.2,811.4L1050.9,812.7L1051.5,814.1L1052.2,815.4L1052.8,816.8L1053.5,818.1L1054.2,819.5L1054.8,820.8L1055.5,822.2L1056.2,823.5L1056.8,824.9L1057.5,826.2L1058.2,827.6L1058.8,828.9L1059.5,830.3L1060.2,831.6L1060.8,833.0L1061.5,834.3L1062.2,835.7L1062.9,837.0L1063.5,838.4L1064.2,839.7L1064.9,841.0L1065.6,842.4L1066.3,843.7L1066.9,845.1L1067.6,846.4L1068.3,847.7L1069.0,849.1L1069.7,850.4L1070.4,851.8L1071.0,853.1L1071.7,854.4L1072.4,855.8L1073.1,857.1L1073.8,858.4L1074.5,859.8L1075.2,861.1L1075.9,862.4L1076.6,863.8L1077.3,865.1L1078.0,866.4L1078.7,867.8L1079.4,869.1L1080.1,870.4L1080.8,871.7L1081.5,873.1L1082.2,874.4L1082.9,875.7L1083.6,877.0L1084.3,878.4L1085.0,879.7L1085.8,881.0L1086.5,882.3L1087.2,883.7L1087.9,885.0L1088.6,886.3L1089.3,887.6L1090.1,888.9L1090.8,890.3L1091.5,891.6L1092.2,892.9L1093.0,894.2L1093.7,895.5L1094.4,896.8L1095.1,898.1L1095.9,899.4L1096.6,900.8L1097.3,902.1L1098.1,903.4L1098.8,904.7L1099.6,906.0L1100.3,907.3L1101.0,908.6L1101.8,909.9L1102.5,911.2L1103.3,912.5L1104.0,913.8L1104.8,915.1L1105.5,916.4L1106.3,917.7L1107.0,919.0L1107.8,920.3L1108.5,921.6L1109.3,922.9L1110.0,924.2L1110.8,925.5L1111.6,926.8L1112.3,928.1L1113.1,929.4L1113.9,930.6L1114.6,931.9L1115.4,933.2L1116.2,934.5L1117.0,935.8L1117.7,937.1L1118.5,938.4L1119.3,939.6L1120.1,940.9L1120.8,942.2L1121.6,943.5L1122.4,944.8L1123.2,946.0L1124.0,947.3L1124.8,948.6L1125.6,949.9L1126.4,951.1L1127.2,952.4L1128.0,953.7L1128.8,954.9L1129.6,956.2L1130.4,957.5L1131.2,958.7L1132.0,960.0L1132.8,961.3L1133.6,962.5L1134.4,963.8L1135.2,965.1L1136.0,966.3L1136.8,967.6L1137.7,968.8L1138.5,970.1L1139.3,971.3L1140.1,972.6L1141.0,973.8L1141.8,975.1L1142.6,976.3L1143.4,977.6L1144.3,978.8L1145.1,980.1L1145.9,981.3L1146.8,982.6L1147.6,983.8L1148.5,985.1L1149.3,986.3L1150.2,987.5L1151.0,988.8L1151.9,990.0L1152.7,991.3L1153.6,992.5L1154.4,993.7L1155.3,995.0L1156.1,996.2L1157.0,997.4L1157.8,998.7L1158.7,999.9L1159.6,1001.1L1160.4,1002.3L1161.3,1003.6L1162.2,1004.8L1163.0,1006.0L1163.9,1007.2L1164.8,1008.5L1165.7,1009.7L1166.5,1010.9L1167.4,1012.1L1168.3,1013.3L1169.2,1014.5L1170.1,1015.7L1170.9,1017.0L1171.8,1018.2L1172.7,1019.4L1173.6,1020.6L1174.5,1021.8L1175.4,1023.0L1176.3,1024.2L1177.2,1025.4L1178.1,1026.6L1179.0,1027.8L1179.9,1029.0L1180.8,1030.2L1181.7,1031.4L1182.6,1032.6L1183.5,1033.8L1184.4,1035.0L1185.3,1036.2L1186.3,1037.4L1187.2,1038.6L1188.1,1039.8L1189.0,1040.9L1189.9,1042.1L1190.8,1043.3L1191.8,1044.5L1192.7,1045.7L1193.6,1046.9L1194.6,1048.1L1195.5,1049.2L1196.4,1050.4L1197.3,1051.6L1198.3,1052.8L1199.2,1053.9L1200.2,1055.1L1201.1,1056.3L1202.0,1057.5L1203.0,1058.6L1203.9,1059.8L1204.9,1061.0L1205.8,1062.1L1206.8,1063.3L1207.7,1064.5L1208.7,1065.6L1209.6,1066.8L1210.6,1067.9L1211.5,1069.1L1212.5,1070.3L1213.5,1071.4L1214.4,1072.6L1215.4,1073.7L1216.3,1074.9L1217.3,1076.0L1218.3,1077.2L1219.3,1078.3L1220.2,1079.5L1221.2,1080.6L1222.2,1081.8L1223.1,1082.9L1224.1,1084.0L1225.1,1085.2L1226.1,1086.3L1227.1,1087.5L1228.1,1088.6L1229.0,1089.7L1230.0,1090.9L1231.0,1092.0L1232.0,1093.1L1233.0,1094.3L1234.0,1095.4L1235.0,1096.5L1236.0,1097.7L1237.0,1098.8L1238.0,1099.9L1239.0,1101.0L1240.0,1102.2L1241.0,1103.3L1242.0,1104.4L1243.0,1105.5L1244.0,1106.6L1245.0,1107.7L1246.0,1108.9L1247.0,1110.0L1248.0,1111.1L1249.1,1112.2L1250.1,1113.3L1251.1,1114.4L1252.1,1115.5L1253.1,1116.6L1254.2,1117.7L1255.2,1118.8L1256.2,1119.9L1257.2,1121.0L1258.3,1122.1L1259.3,1123.2L1260.3,1124.3L1261.4,1125.4L1262.4,1126.5L1263.4,1127.6L1264.5,1128.7L1265.5,1129.8L1266.5,1130.9L1267.6,1132.0L1268.6,1133.0L1269.7,1134.1L1270.7,1135.2L1271.8,1136.3L1272.8,1137.4L1273.9,1138.5L1274.9,1139.5L1276.0,1140.6L1277.0,1141.7L1278.1,1142.8L1279.1,1143.8L1280.2,1144.9L1281.3,1146.0L1282.3,1147.0L1283.4,1148.1L1284.5,1149.2L1285.5,1150.2L1286.6,1151.3L1287.7,1152.4L1288.7,1153.4L1289.8,1154.5L1290.9,1155.5L1291.9,1156.6L1293.0,1157.6L1294.1,1158.7L1295.2,1159.8L1296.3,1160.8L1297.3,1161.8L1298.4,1162.9L1299.5,1163.9L1300.6,1165.0L1301.7,1166.0L1302.8,1167.0L1303.9,1168.0L1305.0,1169.1L1306.1,1170.1L1307.2,1171.1L1308.3,1172.1L1309.5,1173.1L1310.6,1174.1L1311.7,1175.1L1312.8,1176.1L1314.0,1177.1L1315.1,1178.0L1316.2,1179.0L1317.4,1180.0L1318.5,1180.9L1319.7,1181.9L1320.8,1182.8L1322.0,1183.7L1323.2,1184.6L1324.4,1185.6L1325.5,1186.5L1326.7,1187.4L1327.9,1188.3L1329.1,1189.1L1330.3,1190.0L1331.5,1190.9L1332.7,1191.7L1334.0,1192.6L1335.2,1193.4L1336.4,1194.2L1337.7,1195.0L1338.9,1195.8L1340.2,1196.6L1341.4,1197.4L1342.7,1198.2L1344.0,1198.9L1345.3,1199.7L1346.6,1200.4L1347.9,1201.2L1349.2,1201.9L1350.5,1202.6L1351.8,1203.2L1353.2,1203.9L1354.5,1204.6L1355.8,1205.2L1357.2,1205.8L1358.6,1206.5L1359.9,1207.1L1361.3,1207.7L1362.7,1208.2L1364.5,1207.6L1364.5,1207.6L1535.5,1208.0L1536.5,1210.0L1624.0,1210.0L1625.0,1212.0L1848.0,1212.0"/>
<path stroke="#A0A0A0" stroke-linecap="butt" d="M189.4,128.0L190.7,128.6L192.1,129.3L193.4,130.1L194.7,130.9L196.1,131.7L197.3,132.6L198.6,133.4L199.8,134.3L201.1,135.2L202.3,136.2L203.5,137.1L204.6,138.1L205.8,139.1L206.9,140.1L208.0,141.1L209.1,142.2L210.1,143.2L211.2,144.3L212.2,145.4L213.2,146.6L214.2,147.7L215.2,148.8L216.1,150.0L217.0,151.2L217.9,152.4L218.8,153.6L219.7,154.8L220.5,156.1L221.4,157.3L222.2,158.6L223.0,159.9L223.8,161.1L224.5,162.4L225.3,163.7L226.0,165.1L226.8,166.4L227.5,167.7L228.2,169.1L228.9,170.4L229.5,171.8L230.2,173.1L230.9,174.5L231.5,175.9L232.2,177.2L232.8,178.6L233.4,180.0L234.1,181.4L234.7,182.8L235.3,184.2L235.9,185.6L236.5,187.0L237.1,188.4L237.7,189.8L238.3,191.2L238.9,192.6L239.5,194.0L240.1,195.4L240.7,196.8L241.3,198.2L241.9,199.6L242.5,201.0L243.1,202.4L243.7,203.8L244.3,205.2L244.9,206.6L245.5,208.0L246.1,209.4L246.7,210.8L247.3,212.2L247.9,213.6L248.5,214.9L249.1,216.3L249.7,217.7L250.3,219.1L250.9,220.5L251.5,221.9L252.1,223.3L252.7,224.7L253.3,226.1L253.8,227.5L254.4,228.9L255.0,230.2L255.6,231.6L256.1,233.1L256.7,234.5L257.2,235.9L257.8,237.3L258.3,238.7L258.8,240.1L259.4,241.5L259.9,242.9L260.4,244.3L260.9,245.8L261.4,247.2L261.9,248.6L262.4,250.1L262.9,251.5L263.3,253.0L263.8,254.4L264.3,255.8L264.7,257.3L265.2,258.7L265.6,260.2L266.1,261.6L266.5,263.1L266.9,264.6L267.4,266.0L267.8,267.5L268.3,268.9L268.7,270.4L269.1,271.8L269.5,273.3L270.0,274.8L270.4,276.2L270.8,277.7L271.3,279.1L271.7,280.6L272.2,282.0L272.2,282.0L272.2,328.0L272.2,328.0L272.3,329.5L272.6,331.0L272.9,332.4L273.3,333.9L273.8,335.3L274.2,336.8L274.7,338.2L275.1,339.6L275.7,341.0L276.2,342.4L276.7,343.8L277.3,345.2L277.9,346.6L278.4,348.0L279.0,349.4L279.6,350.8L280.2,352.1L280.8,353.5L281.5,354.9L282.1,356.3L282.7,357.7L283.3,359.0L283.9,360.4L284.5,361.8L285.1,363.2L285.7,364.5L286.3,365.9L286.8,367.3L287.4,368.7L287.9,370.1L288.5,371.5L289.0,372.9L289.5,374.3L290.1,375.7L290.7,377.0L291.3,378.4L291.9,379.8L292.5,381.1L293.1,382.5L293.8,383.8L294.6,385.1L295.4,386.4L296.2,387.7L297.0,388.9L298.0,390.2L298.9,391.4L299.9,392.6L300.9,393.8L302.0,394.9L303.1,396.0L304.2,397.1L305.4,398.2L306.5,399.2L307.7,400.2L308.9,401.1L310.1,402.0L311.3,402.9L312.5,403.7L313.8,404.5L315.0,405.3L316.3,406.0L317.6,406.7L318.9,407.4L320.2,408.1L321.6,408.7L322.9,409.3L324.2,409.9L325.6,410.5L327.0,411.0L328.4,411.5L329.8,412.0L331.2,412.5L332.6,412.9L334.0,413.4L335.4,413.8L336.8,414.2L338.3,414.6L339.7,415.0L341.2,415.3L342.6,415.7L344.1,416.0L345.6,416.3L347.0,416.6L348.5,416.9L350.0,417.2L351.5,417.5L353.0,417.7L354.5,418.0L356.0,418.3L357.5,418.5L359.0,418.8L360.4,419.0L361.9,419.3L363.4,419.5L364.9,419.8L366.4,420.0L367.9,420.2L369.4,420.5L370.9,420.7L372.4,420.9L373.9,421.2L375.4,421.4L376.9,421.6L378.4,421.9L379.9,422.1L381.4,422.3L382.9,422.5L384.4,422.7L385.9,423.0L387.4,423.2L388.9,423.4L390.4,423.6L391.9,423.8L393.4,424.0L394.9,424.2L396.4,424.4L397.9,424.6L399.4,424.8L400.9,425.0L402.4,425.2L403.9,425.4L405.4,425.6L406.8,425.8L408.3,426.0L409.8,426.2L411.3,426.4L412.8,426.6L414.3,426.8L415.8,427.0L417.3,427.2L418.8,427.3L420.3,427.5L421.8,427.7L423.3,427.9L424.8,428.1L426.3,428.2L427.8,428.4L429.3,428.6L430.8,428.7L432.3,428.9L433.8,429.1L435.3,429.3L436.8,429.4L438.3,429.6L439.8,429.7L441.3,429.9L442.8,430.1L444.3,430.2L445.8,430.4L447.3,430.5L448.8,430.7L450.3,430.9L451.8,431.0L453.3,431.2L454.8,431.3L456.3,431.5L457.8,431.6L459.3,431.7L460.8,431.9L462.3,432.0L463.8,432.2L465.3,432.3L466.8,432.5L468.3,432.6L469.8,432.7L471.3,432.9L472.8,433.0L474.3,433.1L475.8,433.3L477.3,433.4L478.8,433.5L480.3,433.7L481.8,433.8L483.3,433.9L484.8,434.1L486.3,434.2L487.8,434.3L489.3,434.4L490.8,434.6L492.3,434.7L493.8,434.8L495.3,434.9L496.8,435.0L498.4,435.2L499.9,435.3L501.4,435.4L502.9,435.5L504.4,435.6L505.9,435.7L507.4,435.9L508.9,436.0L510.4,436.1L511.9,436.2L513.4,436.3L514.9,436.4L516.4,436.5L517.9,436.6L519.4,436.7L520.9,436.8L522.4,436.9L523.9,437.0L525.4,437.1L526.9,437.2L528.4,437.3L529.9,437.4L531.4,437.5L532.9,437.6L534.4,437.7L535.9,437.8L537.4,437.9L538.9,438.0L540.4,438.1L541.9,438.2L543.4,438.3L544.9,438.4L546.4,438.5L547.9,438.6L549.4,438.7L550.9,438.8L552.4,438.9L553.9,439.0L555.4,439.1L557.0,439.1L558.5,439.2L560.0,439.3L561.5,439.4L563.0,439.5L564.5,439.6L566.0,439.7L567.5,439.7L569.0,439.8L570.5,439.9L572.0,440.0L573.5,440.1L575.0,440.2L576.5,440.2L578.0,440.3L579.5,440.4L581.0,440.5L582.5,440.6L584.0,440.7L585.5,440.7L587.0,440.8L588.5,440.9L590.0,441.0L591.5,441.0L593.0,441.1L594.5,441.2L596.0,441.3L597.5,441.4L599.1,441.4L600.6,441.5L602.1,441.6L603.6,441.7L605.1,441.7L606.6,441.8L608.1,441.9L609.6,442.0L611.1,442.0L612.6,442.1L614.1,442.2L615.6,442.3L617.1,442.3L618.6,442.4L620.1,442.5L621.6,442.6L623.1,442.6L624.6,442.7L626.1,442.8L627.6,442.9L629.1,442.9L630.6,443.0L632.1,443.1L633.6,443.1L635.1,443.2L636.7,443.3L638.2,443.4L639.7,443.4L641.2,443.5L642.7,443.6L644.2,443.7L645.7,443.7L647.2,443.8L648.7,443.9L650.2,443.9L651.7,444.0L653.2,444.1L654.7,444.2L656.2,444.2L657.7,444.3L659.2,444.4L660.7,444.5L662.2,444.5L663.7,444.6L665.2,444.7L666.7,444.7L668.2,444.8L669.7,444.9L671.2,445.0L672.8,445.0L674.3,445.1L675.8,445.2L677.3,445.3L678.8,445.3L680.3,445.4L681.8,445.5L683.3,445.6L684.8,445.6L686.3,445.7L687.8,445.8L689.3,445.9L690.8,446.0L692.3,446.0L693.8,446.1L695.3,446.2L696.8,446.3L698.3,446.3L699.8,446.4L701.3,446.5L702.8,446.6L704.3,446.7L705.8,446.7L707.3,446.8L708.8,446.9L710.4,447.0L711.9,447.1L713.4,447.2L714.9,447.2L716.4,447.3L717.9,447.4L719.4,447.5L720.9,447.6L722.4,447.7L723.9,447.8L725.4,447.8L726.9,447.9L728.4,448.0L729.9,448.1L731.4,448.2L732.9,448.3L734.4,448.4L735.9,448.5L737.4,448.6L738.9,448.7L740.4,448.7L741.9,448.8L743.4,448.9L744.9,449.0L746.4,449.1L747.9,449.2L749.4,449.3L751.0,449.4L752.5,449.5L754.0,449.6L755.5,449.7L757.0,449.8L758.5,449.9L760.0,450.0L761.5,450.1L763.0,450.2L764.5,450.3L766.0,450.4L767.5,450.5L769.0,450.6L770.5,450.8L772.0,450.9L773.5,451.0L775.0,451.1L776.5,451.2L778.0,451.3L779.5,451.4L781.0,451.5L782.5,451.6L784.0,451.8L785.5,451.9L787.0,452.0L788.5,452.1L790.0,452.2L791.5,452.4L793.0,452.5L794.5,452.6L796.0,452.7L797.5,452.8L799.0,453.0L800.5,453.1L802.0,453.2L803.5,453.4L805.0,453.5L806.5,453.6L808.0,453.7L809.5,453.9L811.1,454.0L812.6,454.2L814.1,454.3L815.6,454.4L817.1,454.6L818.6,454.7L820.1,454.8L821.6,455.0L823.1,455.1L824.6,455.3L826.1,455.4L827.6,455.6L829.1,455.7L830.6,455.9L832.1,456.0L833.6,456.2L835.1,456.3L836.6,456.5L838.1,456.6L839.6,456.8L841.1,456.9L842.6,457.1L844.1,457.3L845.6,457.4L847.1,457.6L848.6,457.7L850.1,457.9L851.6,458.1L853.1,458.3L854.6,458.4L856.1,458.6L857.6,458.8L859.1,458.9L860.6,459.1L862.1,459.3L863.6,459.5L865.1,459.7L866.6,459.8L868.1,460.0L869.6,460.2L871.1,460.4L872.6,460.6L874.1,460.8L875.6,461.0L877.1,461.1L878.6,461.3L880.0,461.5L880.7,462.0L882.2,462.2L883.7,462.5L885.2,462.7L886.7,463.0L888.1,463.2L889.6,463.5L891.1,463.7L892.6,464.0L894.1,464.2L895.5,464.5L897.0,464.8L898.5,465.0L900.0,465.3L901.4,465.6L902.9,465.9L904.4,466.2L905.9,466.5L907.3,466.8L908.8,467.1L910.3,467.4L911.7,467.7L913.2,468.0L914.7,468.3L916.1,468.6L917.6,469.0L919.1,469.3L920.5,469.6L922.0,470.0L923.5,470.3L924.9,470.7L926.4,471.1L927.8,471.4L929.3,471.8L930.7,472.2L932.2,472.5L933.6,472.9L935.1,473.3L936.5,473.7L938.0,474.1L939.4,474.5L940.8,474.9L942.3,475.4L943.7,475.8L945.2,476.2L946.6,476.7L948.0,477.1L949.4,477.6L950.9,478.0L952.3,478.5L953.7,479.0L955.1,479.5L956.5,480.0L957.9,480.5L959.3,481.0L960.8,481.5L962.2,482.0L963.6,482.5L965.0,483.1L966.3,483.6L967.7,484.1L969.1,484.7L970.5,485.3L971.9,485.8L973.3,486.4L974.6,487.0L976.0,487.6L977.4,488.2L978.7,488.8L980.1,489.5L981.5,490.1L982.8,490.7L984.2,491.4L985.5,492.0L986.9,492.7L988.2,493.3L989.5,494.0L990.9,494.7L992.2,495.4L993.6,496.1L994.9,496.8L996.2,497.5L997.5,498.2L998.9,498.9L1000.2,499.6L1001.5,500.3L1002.8,501.0L1004.1,501.8L1005.5,502.5L1006.8,503.2L1008.1,504.0L1009.4,504.7L1010.7,505.4L1012.0,506.2L1013.3,506.9L1014.6,507.7L1015.9,508.5L1017.3,509.2L1018.6,510.0L1019.9,510.7L1021.2,511.5L1022.5,512.3L1023.8,513.0L1025.1,513.8L1026.4,514.6L1027.7,515.3L1029.0,516.1L1030.3,516.9L1031.6,517.6L1032.9,518.4L1034.2,519.2L1035.5,519.9L1036.8,520.7L1038.1,521.5L1039.4,522.2L1040.7,523.0L1042.0,523.7L1043.3,524.5L1044.6,525.3L1045.9,526.0L1047.2,526.8L1048.5,527.5L1049.8,528.3L1051.1,529.0L1052.4,529.8L1053.7,530.5L1055.0,531.3L1056.3,532.1L1057.6,532.8L1058.9,533.6L1060.2,534.3L1061.5,535.1L1062.8,535.9L1064.1,536.6L1065.3,537.4L1066.6,538.2L1067.9,539.0L1069.2,539.7L1070.5,540.5L1071.7,541.3L1073.0,542.1L1074.3,542.9L1075.5,543.7L1076.8,544.5L1078.1,545.3L1079.3,546.1L1080.6,547.0L1081.8,547.8L1083.1,548.6L1084.3,549.5L1085.5,550.3L1086.8,551.1L1088.0,552.0L1089.2,552.9L1090.4,553.7L1091.6,554.6L1092.9,555.5L1094.1,556.3L1095.3,557.2L1096.5,558.1L1097.7,559.0L1098.9,559.9L1100.1,560.8L1101.3,561.7L1102.5,562.6L1103.7,563.5L1104.9,564.4L1106.1,565.3L1107.2,566.2L1108.4,567.1L1109.6,568.0L1110.8,568.9L1112.0,569.9L1113.2,570.8L1114.3,571.7L1115.5,572.6L1116.7,573.6L1117.9,574.5L1119.0,575.4L1120.2,576.4L1121.4,577.3L1122.6,578.2L1123.7,579.2L1124.9,580.1L1126.1,581.0L1127.3,582.0L1128.4,582.9L1129.6,583.8L1130.8,584.8L1132.0,585.7L1133.1,586.6L1134.3,587.6L1135.5,588.5L1136.7,589.4L1137.9,590.4L1139.0,591.3L1140.2,592.2L1141.4,593.1L1142.6,594.1L1143.8,595.0L1145.0,595.9L1146.2,596.8L1147.3,597.7L1148.5,598.7L1149.7,599.6L1150.9,600.5L1152.1,601.4L1153.3,602.3L1154.5,603.2L1155.7,604.1L1156.9,605.0L1158.1,605.9L1159.3,606.8L1160.5,607.7L1161.7,608.6L1163.0,609.5L1164.2,610.4L1165.4,611.3L1166.6,612.2L1167.8,613.1L1169.0,613.9L1170.3,614.8L1171.5,615.7L1172.7,616.6L1173.9,617.4L1175.1,618.3L1176.4,619.2L1177.6,620.0L1178.8,620.9L1180.1,621.8L1181.3,622.6L1182.5,623.5L1183.8,624.3L1185.0,625.2L1186.3,626.0L1187.5,626.9L1188.8,627.7L1190.0,628.5L1191.2,629.4L1192.5,630.2L1193.7,631.0L1195.0,631.9L1196.3,632.7L1197.5,633.5L1198.8,634.3L1200.0,635.1L1201.3,635.9L1202.6,636.8L1203.8,637.6L1205.1,638.4L1206.4,639.2L1207.6,640.0L1208.9,640.7L1210.2,641.5L1211.5,642.3L1212.7,643.1L1214.0,643.9L1215.3,644.7L1216.6,645.4L1217.9,646.2L1219.2,647.0L1220.5,647.7L1221.7,648.5L1223.0,649.2L1224.3,650.0L1225.6,650.8L1226.9,651.5L1228.2,652.3L1229.5,653.0L1230.8,653.7L1232.1,654.5L1233.4,655.2L1234.7,655.9L1236.0,656.7L1237.4,657.4L1238.7,658.1L1240.0,658.9L1241.3,659.6L1242.6,660.3L1243.9,661.0L1245.2,661.7L1246.6,662.4L1247.9,663.1L1249.2,663.8L1250.5,664.5L1251.9,665.2L1253.2,665.9L1254.5,666.6L1255.8,667.3L1257.2,668.0L1258.5,668.7L1259.8,669.4L1261.2,670.1L1262.5,670.7L1263.8,671.4L1265.2,672.1L1266.5,672.8L1267.9,673.4L1269.2,674.1L1270.6,674.8L1271.9,675.4L1273.2,676.1L1274.6,676.8L1275.9,677.4L1277.3,678.1L1278.6,678.7L1280.0,679.4L1281.3,680.0L1282.7,680.7L1284.0,681.3L1285.4,682.0L1286.8,682.6L1288.1,683.2L1289.5,683.9L1290.8,684.5L1292.2,685.1L1293.6,685.8L1294.9,686.4L1296.3,687.0L1297.7,687.6L1299.0,688.3L1300.4,688.9L1301.8,689.5L1303.1,690.1L1304.5,690.7L1305.9,691.4L1307.2,692.0L1308.6,692.6L1310.0,693.2L1311.4,693.8L1312.7,694.4L1314.1,695.0L1315.5,695.6L1316.9,696.2L1318.2,696.8L1319.6,697.4L1321.0,698.0L1322.4,698.6L1323.8,699.2L1325.2,699.8L1326.5,700.3L1327.9,700.9L1329.3,701.5L1330.7,702.1L1332.1,702.7L1333.5,703.3L1334.9,703.9L1336.2,704.4L1337.6,705.0L1339.0,705.6L1340.4,706.2L1341.8,706.7L1343.2,707.3L1344.6,707.9L1346.0,708.4L1347.4,709.0L1348.8,709.6L1350.2,710.1L1351.6,710.7L1352.9,711.3L1354.3,711.8L1355.7,712.4L1357.1,713.0L1358.5,713.5L1359.9,714.1L1361.3,714.6L1362.7,715.2L1364.1,715.7L1365.5,716.3L1366.9,716.8L1368.3,717.4L1369.7,717.9L1371.1,718.5L1372.5,719.0L1373.9,719.6L1375.3,720.1L1376.7,720.7L1378.1,721.2L1379.5,721.8L1380.9,722.3L1382.3,722.9L1383.7,723.4L1385.2,723.9L1386.6,724.5L1388.0,725.0L1389.4,725.6L1390.8,726.1L1392.2,726.6L1393.6,727.2L1395.0,727.7L1396.4,728.2L1397.8,728.8L1399.2,729.3L1400.6,729.8L1402.0,730.4L1403.4,730.9L1404.8,731.4L1406.2,732.0L1407.6,732.5L1409.0,733.0L1410.5,733.6L1411.9,734.1L1413.3,734.6L1414.7,735.1L1416.1,735.7L1417.5,736.2L1418.9,736.7L1420.3,737.3L1421.7,737.8L1423.1,738.3L1424.5,738.8L1425.9,739.4L1427.3,739.9L1428.7,740.4L1430.2,740.9L1431.6,741.4L1433.0,742.0L1434.4,742.5L1435.8,743.0L1437.2,743.5L1438.6,744.0L1440.0,744.6L1441.4,745.1L1442.8,745.6L1444.2,746.1L1445.7,746.6L1447.1,747.1L1448.5,747.7L1449.9,748.2L1451.3,748.7L1452.7,749.2L1454.1,749.7L1455.5,750.2L1456.9,750.7L1458.3,751.3L1459.8,751.8L1461.2,752.3L1462.6,752.8L1464.0,753.3L1465.4,753.8L1466.8,754.3L1468.2,754.8L1469.6,755.3L1471.0,755.8L1472.5,756.4L1473.9,756.9L1475.3,757.4L1476.7,757.9L1478.1,758.4L1479.5,758.9L1480.9,759.4L1482.3,759.9L1483.8,760.4L1485.2,760.9L1486.6,761.4L1488.0,761.9L1489.4,762.4L1490.8,762.9L1492.2,763.4L1493.6,763.9L1495.1,764.4L1496.5,764.9L1497.9,765.4L1499.3,765.9L1500.7,766.4L1502.1,766.9L1503.5,767.4L1505.0,767.9L1506.4,768.4L1507.8,768.9L1509.2,769.4L1510.6,769.9L1512.0,770.4L1513.4,770.9L1514.9,771.4L1516.3,771.9L1517.7,772.4L1519.1,772.9L1520.5,773.4L1521.9,773.9L1523.4,774.4L1524.8,774.9L1526.2,775.3L1527.6,775.8L1529.0,776.3L1530.4,776.8L1531.9,777.3L1533.3,777.8L1534.7,778.3L1536.1,778.8L1537.5,779.3L1538.9,779.8L1540.4,780.3L1541.8,780.7L1543.2,781.2L1544.6,781.7L1546.0,782.2L1547.5,782.7L1548.9,783.2L1550.3,783.7L1551.7,784.2L1553.1,784.6L1554.5,785.1L1556.0,785.6L1557.4,786.1L1558.8,786.6L1560.2,787.1L1561.6,787.6L1563.1,788.0L1564.5,788.5L1565.9,789.0L1567.3,789.5L1568.7,790.0L1570.2,790.5L1571.6,790.9L1573.0,791.4L1574.4,791.9L1575.8,792.4L1577.3,792.9L1578.7,793.4L1580.1,793.8L1581.5,794.3L1582.9,794.8L1584.4,795.3L1585.8,795.8L1587.2,796.2L1588.6,796.7L1590.1,797.2L1591.5,797.7L1592.9,798.2L1594.3,798.6L1595.7,799.1L1597.2,799.6L1598.6,800.1L1600.0,800.5L1601.4,801.0L1602.9,801.5L1604.3,802.0L1605.7,802.5L1607.1,802.9L1608.6,803.4L1610.0,803.9L1611.4,804.4L1612.8,804.8L1614.2,805.3L1615.7,805.8L1617.1,806.3L1618.5,806.7L1619.9,807.2L1621.4,807.7L1622.8,808.2L1624.2,808.6L1625.6,809.1L1627.1,809.6L1628.5,810.0L1629.9,810.5L1631.3,811.0L1632.8,811.5L1634.2,811.9L1635.6,812.4L1637.1,812.9L1638.5,813.4L1639.9,813.8L1641.3,814.3L1642.8,814.8L1644.2,815.2L1645.6,815.7L1647.0,816.2L1648.5,816.6L1649.9,817.1L1651.3,817.6L1652.7,818.1L1654.2,818.5L1655.6,819.0L1657.0,819.5L1658.5,819.9L1659.9,820.4L1661.3,820.9L1662.7,821.3L1664.2,821.8L1665.6,822.3L1667.0,822.7L1668.5,823.2L1669.9,823.7L1671.3,824.1L1672.7,824.6L1674.2,825.1L1675.6,825.5L1677.0,826.0L1678.5,826.5L1679.9,826.9L1681.3,827.4L1682.7,827.9L1684.2,828.3L1685.6,828.8L1687.0,829.2L1688.5,829.7L1689.9,830.2L1691.3,830.6L1692.7,831.1L1694.2,831.6L1695.6,832.0L1697.0,832.5L1698.5,832.9L1699.9,833.4L1701.3,833.9L1702.8,834.3L1704.2,834.8L1705.6,835.2L1707.0,835.7L1708.5,836.2L1709.9,836.6L1711.3,837.1L1712.8,837.5L1714.2,838.0L1715.6,838.5L1717.1,838.9L1718.5,839.4L1719.9,839.8L1721.4,840.3L1722.8,840.8L1724.2,841.2L1725.7,841.7L1727.1,842.1L1728.5,842.6L1729.9,843.0L1731.4,843.5L1732.8,843.9L1734.2,844.4L1735.7,844.9L1737.1,845.3L1738.5,845.8L1740.0,846.2L1741.4,846.7L1742.8,847.1L1744.3,847.6L1745.7,848.0L1747.1,848.5L1748.6,848.9L1750.0,849.4L1751.4,849.8L1752.9,850.3L1754.3,850.7L1755.7,851.2L1757.2,851.6L1758.6,852.1L1760.0,852.6L1761.5,853.0L1762.9,853.5L1764.3,853.9L1765.8,854.4L1767.2,854.8L1768.6,855.2L1770.1,855.7L1771.5,856.1L1772.9,856.6L1774.4,857.0L1775.8,857.5L1777.2,857.9L1778.7,858.4L1780.1,858.8L1781.5,859.3L1783.0,859.7L1784.4,860.2L1785.8,860.6L1787.3,861.1L1788.7,861.5L1790.1,862.0L1791.6,862.4L1793.0,862.8L1794.4,863.3L1795.9,863.7L1797.3,864.2L1798.7,864.6L1800.2,865.1L1801.6,865.5L1803.0,865.9L1804.5,866.4L1805.9,866.8L1807.3,867.3L1808.8,867.7L1810.2,868.2L1811.6,868.6L1813.1,869.0L1814.5,869.5L1815.9,869.9L1817.4,870.4L1818.8,870.8L1820.2,871.2L1821.7,871.7L1823.1,872.1L1824.5,872.6L1826.0,873.0L1827.4,873.4L1828.8,873.9L1830.3,874.3L1831.7,874.7L1833.2,875.2L1834.6,875.6L1836.0,876.1L1837.5,876.5L1838.9,876.9L1840.3,877.4L1841.8,877.8L1843.2,878.2L1844.6,878.7L1846.1,879.1L1848.0,879.6"/>
<circle cx="190.2" cy="128.6" r="2.8" fill="#A0A0A0" stroke="none"/>
</g>
<g stroke="#000" stroke-width="3" fill="none">
<line x1="300.5" y1="305.3" x2="300.5" y2="1278" stroke-dasharray="12.1 2.75 4.2 2.625" stroke-dashoffset="14.85"/>
<line x1="953.6" y1="418" x2="953.6" y2="1288.5" stroke-dasharray="12.1 2.75 4.2 2.625" stroke-dashoffset="8.85"/>
<line x1="1369.5" y1="620.1" x2="1369.5" y2="1278.5" stroke-dasharray="12.1 2.75 4.2 2.625" stroke-dashoffset="3.95"/>
</g>
<g font-family="Liberation Serif, Times New Roman, serif" font-size="42" fill="#000">
<text x="345.00" y="1339.5" text-anchor="middle">100</text>
<text x="562.52" y="1339.5" text-anchor="middle">200</text>
<text x="780.04" y="1339.5" text-anchor="middle">300</text>
<text x="997.56" y="1339.5" text-anchor="middle">400</text>
<text x="1215.08" y="1339.5" text-anchor="middle">500</text>
<text x="1432.60" y="1339.5" text-anchor="middle">600</text>
<text x="1650.12" y="1339.5" text-anchor="middle">700</text>
<text x="1867.64" y="1339.5" text-anchor="middle">800</text>
<text x="154.8" y="1292.00" text-anchor="end">0</text>
<text x="154.8" y="1174.50" text-anchor="end">10</text>
<text x="154.8" y="1057.00" text-anchor="end">20</text>
<text x="154.8" y="939.50" text-anchor="end">30</text>
<text x="154.8" y="822.00" text-anchor="end">40</text>
<text x="154.8" y="704.50" text-anchor="end">50</text>
<text x="154.8" y="587.00" text-anchor="end">60</text>
<text x="154.8" y="469.50" text-anchor="end">70</text>
<text x="154.8" y="352.00" text-anchor="end">80</text>
<text x="154.8" y="234.50" text-anchor="end">90</text>
<text x="154.8" y="117.00" text-anchor="end">100</text>
</g>
<g font-family="Liberation Serif, Times New Roman, serif" font-size="49" fill="#000">
<text x="290" y="290.0">80°C</text>
<text x="908.5" y="410.3">380°C</text>
<text x="1323.5" y="609.5">570°C</text>
</g>
<line x1="1298" y1="112.00" x2="1407" y2="112.00" stroke="#000080" stroke-width="6" stroke-linecap="round"/>
<text x="1419" y="127.50" font-family="Liberation Serif, Times New Roman, serif" font-size="48.4" fill="#000"><tspan font-weight="bold">5U10Cu</tspan> fresh</text>
<line x1="1298" y1="173.00" x2="1407" y2="173.00" stroke="#008080" stroke-width="6" stroke-linecap="round"/>
<text x="1419" y="188.50" font-family="Liberation Serif, Times New Roman, serif" font-size="48.4" fill="#000"><tspan font-weight="bold">5U10Cu</tspan> poisoned</text>
<line x1="1298" y1="234.00" x2="1407" y2="234.00" stroke="#A0A0A0" stroke-width="6" stroke-linecap="round"/>
<text x="1419" y="249.50" font-family="Liberation Serif, Times New Roman, serif" font-size="48.4" fill="#000"><tspan font-weight="bold">5U10Cu</tspan> regenerated</text>
<text x="253.4" y="136.5" font-family="Liberation Serif, Times New Roman, serif" font-size="75" font-weight="bold">D</text>
<text x="906.9" y="1425" font-family="Liberation Serif, Times New Roman, serif" font-size="49" font-weight="bold">Temperature (°C)</text>
<text transform="translate(67,810.5) rotate(-90)" font-family="Liberation Serif, Times New Roman, serif" font-size="54.3" font-weight="bold">Relative mass (%)</text>
</svg></body></html>
